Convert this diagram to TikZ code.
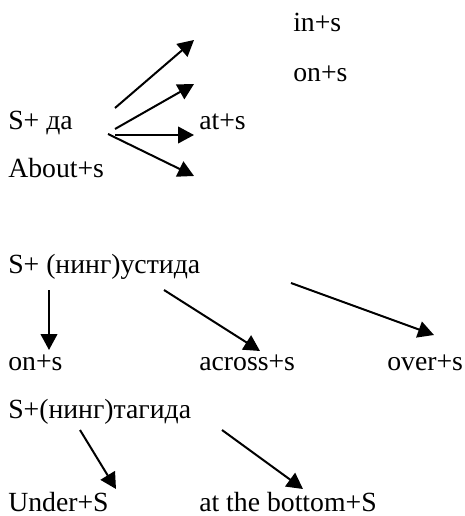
\documentclass[tikz,border=0pt]{standalone}
\usepackage{fontspec}
\setmainfont{Liberation Serif}
\usetikzlibrary{arrows.meta}
\begin{document}
\begin{tikzpicture}[x=0.75pt,y=-0.75pt,
  lbl/.style={anchor=base west,inner sep=0pt,font=\fontsize{20.8pt}{25pt}\selectfont},
  arr/.style={line width=1.5pt,-{Triangle[length=12pt,width=12.5pt]}}]
\useasboundingbox (0,0) rectangle (464,516);

% --- S + да ---
\node[lbl] (ins)   at (293,32)  {in+s};
\node[lbl] (ons)   at (293,82)  {on+s};
\node[lbl] (sda)   at (8,130)   {S+ да};
\node[lbl] (ats)   at (199,130) {at+s};
\node[lbl] (about) at (8,178)   {About+s};

\coordinate (a1s) at (115,108); \coordinate (a1e) at (194,40);
\coordinate (a2s) at (115,129); \coordinate (a2e) at (194,84);
\coordinate (a3s) at (115,135); \coordinate (a3e) at (194,135);
\coordinate (a4s) at (108,134); \coordinate (a4e) at (194,176);
\draw[arr] (a1s) -- (a1e);
\draw[arr] (a2s) -- (a2e);
\draw[arr] (a3s) -- (a3e);
\draw[arr] (a4s) -- (a4e);

% --- S + (нинг)устида ---
\node[lbl] (ustida) at (8,273)   {S+ (нинг)устида};
\node[lbl] (on2)    at (8,370)   {on+s};
\node[lbl] (across) at (199,370) {across+s};
\node[lbl] (over)   at (387,370) {over+s};

\coordinate (b1s) at (49,290)  ; \coordinate (b1e) at (49,350);
\coordinate (b2s) at (164,290) ; \coordinate (b2e) at (260,351);
\coordinate (b3s) at (291,283) ; \coordinate (b3e) at (434,335);
\draw[arr] (b1s) -- (b1e);
\draw[arr] (b2s) -- (b2e);
\draw[arr] (b3s) -- (b3e);

% --- S + (нинг)тагида ---
\node[lbl] (tagida) at (8,418)   {S+(нинг)тагида};
\node[lbl] (under)  at (8,511)   {Under+S};
\node[lbl] (bottom) at (199,511) {at the bottom+S};

\coordinate (c1s) at (80,430)  ; \coordinate (c1e) at (116,489);
\coordinate (c2s) at (222,430) ; \coordinate (c2e) at (303,489);
\draw[arr] (c1s) -- (c1e);
\draw[arr] (c2s) -- (c2e);
\end{tikzpicture}
\end{document}
